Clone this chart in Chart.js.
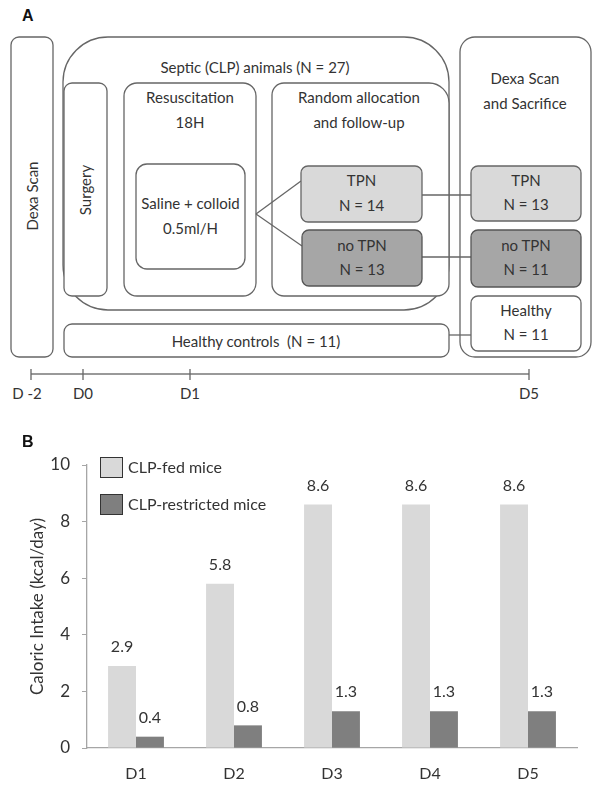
<!DOCTYPE html>
<html>
<head>
<meta charset="utf-8">
<script src="https://cdn.jsdelivr.net/npm/chart.js@4.4.1/dist/chart.umd.min.js"></script>
<style>
  html, body { margin: 0; padding: 0; background: #fff; }
  body { width: 600px; height: 788px; position: relative; overflow: hidden; font-family: Lato, "Open Sans", sans-serif; }
  #diagram { position: absolute; left: 0; top: 0; }
  #chartWrap { position: absolute; left: 0; top: 420px; width: 600px; height: 368px; }
  .lbl { font-family: "Liberation Sans", Arial, sans-serif; font-weight: bold; font-size: 16px; fill: #111; }
  .t { font-family: Lato, sans-serif; font-size: 15px; fill: #333; text-anchor: middle; dominant-baseline: central; }
  .box { fill: #fff; stroke: #666; stroke-width: 1.3; }
  .ln { stroke: #666; stroke-width: 1.3; fill: none; }
</style>
</head>
<body>
<svg id="diagram" width="600" height="420" xmlns="http://www.w3.org/2000/svg">
  <text class="lbl" x="22" y="21">A</text>
  <!-- Left Dexa Scan -->
  <rect class="box" x="11" y="37" width="42" height="320" rx="8"/>
  <text class="t" transform="translate(32,196) rotate(-90)">Dexa Scan</text>
  <!-- Septic big box -->
  <rect class="box" x="63" y="37" width="386" height="273" rx="45"/>
  <text class="t" x="255" y="67">Septic (CLP) animals (N = 27)</text>
  <!-- Surgery -->
  <rect class="box" x="64" y="83" width="43" height="213" rx="8"/>
  <text class="t" transform="translate(85,190) rotate(-90)">Surgery</text>
  <!-- Resuscitation -->
  <rect class="box" x="124" y="83" width="132" height="213" rx="13"/>
  <text class="t" x="190" y="97">Resuscitation</text>
  <text class="t" x="190" y="122">18H</text>
  <!-- Saline -->
  <rect class="box" x="136" y="164" width="109" height="105" rx="11"/>
  <text class="t" x="190.5" y="203">Saline + colloid</text>
  <text class="t" x="190.5" y="228">0.5ml/H</text>
  <!-- Random allocation -->
  <path class="box" d="M284,83 H429 A20,20 0 0 1 449,103 V284 A12,12 0 0 1 437,296 H284 A12,12 0 0 1 272,284 V95 A12,12 0 0 1 284,83 Z"/>
  <text class="t" x="359" y="97">Random allocation</text>
  <text class="t" x="359" y="122">and follow-up</text>
  <!-- branch lines -->
  <line class="ln" x1="256" y1="214" x2="301" y2="181"/>
  <line class="ln" x1="256" y1="214" x2="302" y2="246"/>
  <!-- Right Dexa box -->
  <rect class="box" x="460" y="37" width="131" height="320" rx="15"/>
  <text class="t" x="525" y="78">Dexa Scan</text>
  <text class="t" x="525" y="103">and Sacrifice</text>
  <!-- connectors -->
  <line class="ln" x1="422" y1="195" x2="471" y2="195"/>
  <line class="ln" x1="422" y1="257" x2="471" y2="257"/>
  <line class="ln" x1="449" y1="335" x2="471" y2="335"/>
  <!-- TPN left -->
  <rect x="301" y="166" width="121" height="56" rx="7" fill="#d9d9d9" stroke="#666" stroke-width="1.3"/>
  <text class="t" x="361.5" y="180">TPN</text>
  <text class="t" x="361.5" y="205">N = 14</text>
  <!-- noTPN left -->
  <rect x="302" y="230" width="120" height="56" rx="7" fill="#a6a6a6" stroke="#555" stroke-width="1.3"/>
  <text class="t" x="362" y="245">no TPN</text>
  <text class="t" x="362" y="269">N = 13</text>
  <!-- TPN right -->
  <rect x="471" y="166" width="110" height="55" rx="7" fill="#d9d9d9" stroke="#666" stroke-width="1.3"/>
  <text class="t" x="526" y="180">TPN</text>
  <text class="t" x="526" y="204">N = 13</text>
  <!-- noTPN right -->
  <rect x="471" y="230" width="110" height="57" rx="7" fill="#a6a6a6" stroke="#555" stroke-width="1.3"/>
  <text class="t" x="526" y="245">no TPN</text>
  <text class="t" x="526" y="269">N = 11</text>
  <!-- Healthy right -->
  <rect class="box" x="471" y="296" width="110" height="55" rx="7"/>
  <text class="t" x="526" y="310">Healthy</text>
  <text class="t" x="526" y="334">N = 11</text>
  <!-- Healthy controls -->
  <rect class="box" x="64" y="324" width="385" height="33" rx="8"/>
  <text class="t" x="256" y="341">Healthy controls&#160; (N = 11)</text>
  <!-- timeline -->
  <line x1="31" y1="374" x2="529" y2="374" stroke="#777" stroke-width="1.6"/>
  <line class="ln" x1="31" y1="369" x2="31" y2="380"/>
  <line class="ln" x1="83" y1="369" x2="83" y2="380"/>
  <line class="ln" x1="190" y1="369" x2="190" y2="380"/>
  <line class="ln" x1="529" y1="369" x2="529" y2="380"/>
  <text class="t" x="27" y="393">D -2</text>
  <text class="t" x="83" y="393">D0</text>
  <text class="t" x="190" y="393">D1</text>
  <text class="t" x="529" y="393">D5</text>
</svg>
<div id="chartWrap"><canvas id="c"></canvas></div>
<div style="position:absolute;left:22px;top:433px;font-family:'Liberation Sans',Arial,sans-serif;font-weight:bold;font-size:16px;color:#111;">B</div>
<script>
const categories = ['D1', 'D2', 'D3', 'D4', 'D5'];
const fedValues = [2.9, 5.8, 8.6, 8.6, 8.6];
const restrictedValues = [0.4, 0.8, 1.3, 1.3, 1.3];
const seriesLabels = ['CLP-fed mice', 'CLP-restricted mice'];
const seriesColors = ['#d9d9d9', '#7f7f7f'];
const yTickValues = [0, 2, 4, 6, 8, 10];
const yTitle = 'Caloric Intake (kcal/day)';

const textColor = '#333';
const fontFamily = 'Lato, "Open Sans", sans-serif';

const valueLabels = {
  id: 'valueLabels',
  afterDatasetsDraw(chart) {
    const ctx = chart.ctx;
    ctx.save();
    ctx.font = '16px ' + fontFamily;
    ctx.fillStyle = textColor;
    ctx.textAlign = 'center';
    ctx.textBaseline = 'middle';
    chart.data.datasets.forEach((ds, di) => {
      chart.getDatasetMeta(di).data.forEach((bar, i) => {
        ctx.fillText(ds.data[i].toFixed(1), bar.x, bar.y - 19);
      });
    });
    ctx.restore();
  }
};

const innerLegend = {
  id: 'innerLegend',
  afterDraw(chart) {
    const ctx = chart.ctx;
    const a = chart.chartArea;
    ctx.save();
    ctx.font = '16px ' + fontFamily;
    ctx.textBaseline = 'middle';
    ctx.textAlign = 'left';
    chart.data.datasets.forEach((ds, i) => {
      const x = a.left + 13;
      const y = a.top - 8 + i * 37;
      ctx.fillStyle = ds.backgroundColor;
      ctx.fillRect(x, y, 23, 21);
      ctx.strokeStyle = '#333';
      ctx.lineWidth = 1;
      ctx.strokeRect(x + 0.5, y + 0.5, 22, 20);
      ctx.fillStyle = textColor;
      ctx.fillText(ds.label, x + 28, y + 11);
    });
    ctx.restore();
  }
};

new Chart(document.getElementById('c'), {
  type: 'bar',
  data: {
    labels: categories,
    datasets: [
      { label: seriesLabels[0], data: fedValues, backgroundColor: seriesColors[0] },
      { label: seriesLabels[1], data: restrictedValues, backgroundColor: seriesColors[1] }
    ]
  },
  options: {
    responsive: true,
    maintainAspectRatio: false,
    animation: false,
    layout: { padding: { top: 45, right: 23, left: 0, bottom: 0 } },
    datasets: { bar: { categoryPercentage: 0.57, barPercentage: 1.0 } },
    plugins: { legend: { display: false }, tooltip: { enabled: false } },
    scales: {
      x: {
        grid: { display: false, drawTicks: false },
        border: { display: true, color: '#a6a6a6', width: 1.3 },
        ticks: { color: textColor, font: { size: 16, family: fontFamily }, padding: 16 },
        afterFit(s) { s.height = 40; }
      },
      y: {
        min: 0, max: 10,
        afterBuildTicks(s) { s.ticks = yTickValues.map(v => ({ value: v })); },
        grid: { display: true, drawOnChartArea: false, drawTicks: true, tickLength: 5, color: '#a6a6a6' },
        border: { display: true, color: '#a6a6a6', width: 1.3 },
        ticks: { color: textColor, font: { size: 17, family: fontFamily }, padding: 12 },
        title: { display: true, text: yTitle, color: textColor, font: { size: 17, family: fontFamily }, padding: { top: 27, bottom: 0 } },
        afterFit(s) { s.width = 87; }
      }
    }
  },
  plugins: [valueLabels, innerLegend]
});
</script>
</body>
</html>
